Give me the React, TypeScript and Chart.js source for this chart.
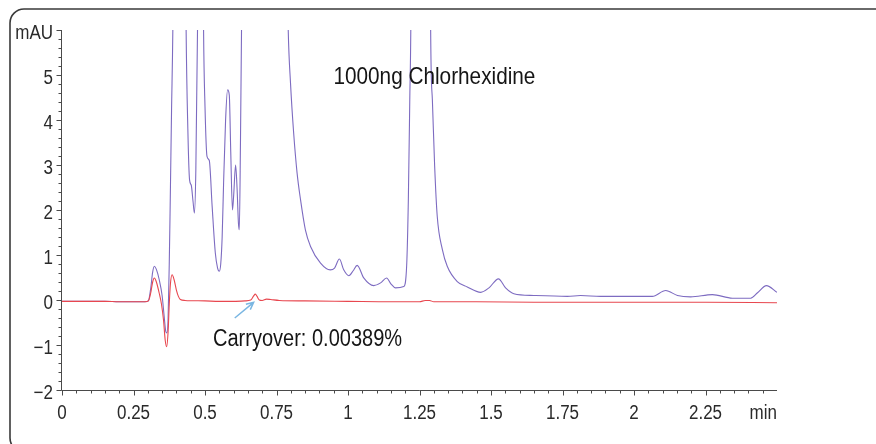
import React, { useEffect, useRef } from 'react';
import { Chart, registerables } from 'chart.js';

Chart.register(...registerables);

const FONT = "'Liberation Sans', Arial, sans-serif";

// 1000 ng chlorhexidine injection (retention time in min, absorbance in mAU)
const SAMPLE_TIME = [
  0.0, 0.05, 0.1, 0.15, 0.2, 0.25, 0.29, 0.302, 0.31, 0.317, 0.323, 0.33, 0.34, 0.35, 0.357, 0.363,
  0.367, 0.371, 0.375, 0.378, 0.383, 0.388, 0.4, 0.41, 0.42, 0.434, 0.44, 0.446, 0.452, 0.458, 0.463,
  0.468, 0.474, 0.48, 0.486, 0.491, 0.495, 0.5, 0.507, 0.515, 0.525, 0.536, 0.544, 0.55, 0.555, 0.56,
  0.565, 0.572, 0.579, 0.585, 0.59, 0.596, 0.6, 0.607, 0.612, 0.617, 0.62, 0.624, 0.628, 0.64, 0.7,
  0.77, 0.791, 0.799, 0.81, 0.822, 0.834, 0.851, 0.869, 0.904, 0.938, 0.953, 0.97, 0.985, 1.003, 1.018,
  1.032, 1.055, 1.09, 1.114, 1.135, 1.15, 1.166, 1.195, 1.205, 1.211, 1.216, 1.22, 1.235, 1.255, 1.275,
  1.289, 1.295, 1.303, 1.312, 1.33, 1.347, 1.382, 1.417, 1.464, 1.493, 1.526, 1.551, 1.58, 1.65, 1.767,
  1.813, 1.883, 1.988, 2.064, 2.111, 2.152, 2.198, 2.274, 2.344, 2.408, 2.432, 2.463, 2.5,
];
const SAMPLE_MAU = [
  -0.03, -0.03, -0.03, -0.03, -0.04, -0.04, -0.04, -0.02, 0.25, 0.62, 0.75, 0.68, 0.45, 0.1, -0.35, -0.7,
  -0.73, -0.4, 0.8, 2.0, 4.2, 6.3, 18, 25, 18, 6.0, 3.8, 2.67, 2.55, 2.2, 1.93,
  2.9, 6.1, 12, 14, 10, 6.0, 4.3, 3.19, 3.1, 2.08, 1.05, 0.71, 0.64, 0.8, 1.4,
  2.6, 4.0, 4.67, 4.55, 3.3, 2.0, 2.3, 3.0, 2.5, 1.7, 1.56, 3.5, 6.2, 16, 40,
  14, 6.0, 4.82, 3.71, 2.82, 2.23, 1.56, 1.19, 0.82, 0.67, 0.71, 0.91, 0.67, 0.54, 0.65,
  0.77, 0.49, 0.32, 0.38, 0.49, 0.36, 0.27, 0.3, 0.75, 2.23, 4.45, 6.4, 30, 60, 30,
  6.0, 4.45, 2.97, 1.86, 1.12, 0.75, 0.41, 0.29, 0.17, 0.27, 0.47, 0.27, 0.14, 0.1, 0.08,
  0.1, 0.08, 0.08, 0.08, 0.21, 0.1, 0.07, 0.12, 0.04, 0.04, 0.16, 0.32, 0.17,
];

// Following blank injection (carryover)
const BLANK_TIME = [
  0.0, 0.05, 0.1, 0.15, 0.2, 0.25, 0.29, 0.302, 0.31, 0.317, 0.323, 0.33, 0.34, 0.348, 0.355, 0.361,
  0.366, 0.371, 0.375, 0.379, 0.385, 0.392, 0.4, 0.407, 0.414, 0.43, 0.5, 0.55, 0.6, 0.64, 0.66, 0.67,
  0.676, 0.682, 0.69, 0.7, 0.715, 0.73, 0.76, 0.85, 1.0, 1.15, 1.25, 1.27, 1.285, 1.3, 1.45, 1.65,
  1.85, 2.05, 2.25, 2.5,
];
const BLANK_MAU = [
  -0.03, -0.03, -0.03, -0.03, -0.04, -0.04, -0.04, -0.02, 0.15, 0.4, 0.49, 0.4, 0.15, -0.1, -0.45, -0.9,
  -1.04, -0.7, -0.1, 0.35, 0.56, 0.45, 0.22, 0.08, 0.01, -0.01, -0.02, -0.03, -0.03, -0.02, 0.0, 0.09,
  0.13, 0.08, 0.0, -0.01, 0.02, 0.01, -0.01, -0.02, -0.03, -0.04, -0.04, -0.01, -0.01, -0.04, -0.04, -0.05,
  -0.05, -0.05, -0.05, -0.06,
];

const X_TICKS = [0, 0.25, 0.5, 0.75, 1, 1.25, 1.5, 1.75, 2, 2.25];
const X_TICK_LABELS = ['0', '0.25', '0.5', '0.75', '1', '1.25', '1.5', '1.75', '2', '2.25'];
const Y_TICKS = [-2, -1, 0, 1, 2, 3, 4, 5, 6];
const Y_TICK_LABELS = ['\u22122', '\u22121', '0', '1', '2', '3', '4', '5', 'mAU'];
const X_UNIT = 'min';
const TITLE = '1000ng Chlorhexidine';
const CARRYOVER_LABEL = 'Carryover: 0.00389%';

const toPoints = (t: number[], v: number[]) => t.map((x, i) => ({ x, y: v[i] }));

// Condensed text: regular face squeezed horizontally around its anchor
function narrowText(
  ctx: CanvasRenderingContext2D,
  text: string,
  x: number,
  y: number,
  size: number,
  squeeze: number,
  align: CanvasTextAlign,
  color: string,
) {
  ctx.save();
  ctx.translate(x, y);
  ctx.scale(squeeze, 1);
  ctx.font = `${size}px ${FONT}`;
  ctx.textAlign = align;
  ctx.textBaseline = 'alphabetic';
  ctx.fillStyle = color;
  ctx.fillText(text, 0, 0);
  ctx.restore();
}

// Frame, axis lines with major/minor ticks, tick labels and annotations
const decorations = {
  id: 'decorations',
  afterDraw(chart: any) {
    const { ctx, chartArea: a } = chart;
    const xs = chart.scales.x;
    const ys = chart.scales.y;
    ctx.save();

    ctx.strokeStyle = '#3a3a3a';
    ctx.lineWidth = 1.6;
    ctx.beginPath();
    ctx.roundRect(10, 9, 920, 443, 14);
    ctx.stroke();

    const axX = Math.round(a.left) - 0.5;
    const axY = Math.round(a.bottom) + 0.5;
    ctx.strokeStyle = '#4a4a4a';
    ctx.lineWidth = 1;
    ctx.beginPath();
    ctx.moveTo(axX, a.top);
    ctx.lineTo(axX, axY);
    ctx.lineTo(a.right, axY);
    ctx.stroke();

    ctx.beginPath();
    for (let i = 0; i < 50; i++) {
      const px = Math.round(xs.getPixelForValue(i * 0.05)) + 0.5;
      const len = i % 5 === 0 ? 5 : 3;
      ctx.moveTo(px, axY);
      ctx.lineTo(px, axY + len);
    }
    for (let i = 0; i <= 40; i++) {
      const py = Math.round(ys.getPixelForValue(-2 + i * 0.2)) + 0.5;
      const len = i % 5 === 0 ? 5 : 3;
      ctx.moveTo(axX, py);
      ctx.lineTo(axX - len, py);
    }
    ctx.stroke();

    const labelColor = '#2a2a2a';
    xs.ticks.forEach((t: any, i: number) => {
      narrowText(ctx, X_TICK_LABELS[i], xs.getPixelForValue(t.value), a.bottom + 29, 20, 0.85, 'center', labelColor);
    });
    ys.ticks.forEach((t: any, i: number) => {
      narrowText(ctx, Y_TICK_LABELS[i], a.left - 9, ys.getPixelForValue(t.value) + 8.5, 20, 0.85, 'right', labelColor);
    });
    narrowText(ctx, X_UNIT, xs.getPixelForValue(2.5), a.bottom + 29, 20, 0.85, 'right', labelColor);

    narrowText(ctx, TITLE, xs.getPixelForValue(0.949), ys.getPixelForValue(4.807), 24, 0.865, 'left', '#151515');
    narrowText(ctx, CARRYOVER_LABEL, xs.getPixelForValue(0.528), ys.getPixelForValue(-1.031), 23, 0.87, 'left', '#151515');

    // arrow pointing at the carryover peak
    const tx = xs.getPixelForValue(0.604);
    const ty = ys.getPixelForValue(-0.4);
    const hx = xs.getPixelForValue(0.67);
    const hy = ys.getPixelForValue(-0.053);
    const ang = Math.atan2(hy - ty, hx - tx);
    const head = 8;
    ctx.strokeStyle = '#7ab6e2';
    ctx.lineWidth = 1.5;
    ctx.beginPath();
    ctx.moveTo(tx, ty);
    ctx.lineTo(hx, hy);
    ctx.moveTo(hx - head * Math.cos(ang - 0.45), hy - head * Math.sin(ang - 0.45));
    ctx.lineTo(hx, hy);
    ctx.lineTo(hx - head * Math.cos(ang + 0.45), hy - head * Math.sin(ang + 0.45));
    ctx.stroke();

    ctx.restore();
  },
};

export default function App() {
  const ref = useRef<HTMLCanvasElement | null>(null);

  useEffect(() => {
    if (!ref.current) return;
    const chart = new Chart(ref.current, {
      type: 'line',
      data: {
        datasets: [
          {
            label: 'Blank',
            data: toPoints(BLANK_TIME, BLANK_MAU),
            borderColor: '#e8474f',
            borderWidth: 1.1,
            pointRadius: 0,
            cubicInterpolationMode: 'monotone',
            fill: false,
          },
          {
            label: '1000ng Chlorhexidine',
            data: toPoints(SAMPLE_TIME, SAMPLE_MAU),
            borderColor: '#7d6bc1',
            borderWidth: 1.1,
            pointRadius: 0,
            cubicInterpolationMode: 'monotone',
            fill: false,
          },
        ],
      },
      options: {
        responsive: false,
        animation: false,
        devicePixelRatio: 1,
        layout: { padding: { left: 0, right: 99, top: 30, bottom: 0 } },
        plugins: { legend: { display: false }, tooltip: { enabled: false } },
        scales: {
          x: {
            type: 'linear',
            min: 0,
            max: 2.5,
            grid: { display: false, drawTicks: false },
            border: { display: false },
            afterBuildTicks: (s: any) => {
              s.ticks = X_TICKS.map((value) => ({ value }));
            },
            afterFit: (s: any) => {
              s.height = 54;
            },
            ticks: { display: false },
          },
          y: {
            type: 'linear',
            min: -2,
            max: 6,
            grid: { display: false, drawTicks: false },
            border: { display: false },
            afterBuildTicks: (s: any) => {
              s.ticks = Y_TICKS.map((value) => ({ value }));
            },
            afterFit: (s: any) => {
              s.width = 62;
            },
            ticks: { display: false },
          },
        },
      },
      plugins: [decorations],
    });
    return () => chart.destroy();
  }, []);

  return (
    <canvas
      ref={ref}
      width={876}
      height={444}
      style={{ position: 'absolute', left: 0, top: 0, width: 876, height: 444 }}
    />
  );
}
